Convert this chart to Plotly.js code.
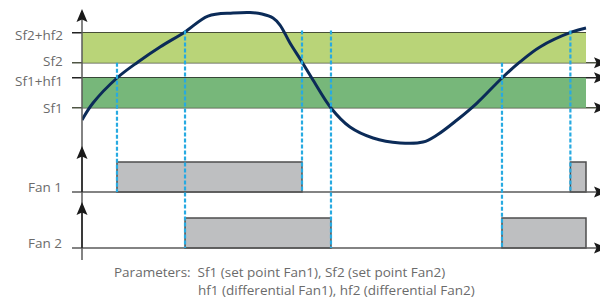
<!DOCTYPE html>
<html><head><meta charset="utf-8">
<script src="https://cdn.plot.ly/plotly-3.0.1.min.js"></script>
<style>html,body{margin:0;padding:0;background:#fff}#chart{width:600px;height:301px}</style>
</head><body><div id="chart"></div>
<script>
// ---- data (time in arbitrary units 0..100, temperature in arbitrary units) ----
const time = [0, 2.18, 6.94, 11.11, 15.48, 20.44, 25.0, 29.96, 33.33, 35.71, 37.9, 39.29, 41.27, 43.65, 45.83, 49.4, 53.17, 57.74, 63.1, 67.66, 70.44, 74.4, 78.37, 83.33, 86.9, 90.87, 97.22, 100];
const temperature = [9.18, 10.31, 11.98, 13.05, 14.05, 15.05, 16.11, 16.31, 16.35, 16.25, 15.98, 15.51, 14.31, 13.05, 11.85, 9.98, 8.71, 7.98, 7.65, 7.71, 8.18, 9.18, 10.31, 11.98, 13.05, 14.05, 15.05, 15.31];
const levelLabels = ['Sf1', 'Sf1+hf1', 'Sf2', 'Sf2+hf2'];
const levelValues = [10, 12, 13, 15];
const fanLabels = ['Fan 1', 'Fan 2'];
const fan1On = [6.94, 96.9];
const fan1Off = [43.65, 100];
const fan2On = [20.44, 83.33];
const fan2Off = [49.4, 100];
const switchTimes = [6.94, 20.44, 43.65, 49.4, 83.33, 96.9];
const switchFrom = [13, 15.15, 15.15, 15.15, 13, 15.15];
const switchFan = [1, 2, 1, 2, 2, 1];
const parameterLines = ['Parameters:  Sf1 (set point Fan1), Sf2 (set point Fan2)', 'hf1 (differential Fan1), hf2 (differential Fan2)'];

// ---- geometry ----
const W = 600, H = 301;
const px = x => x / W;
const py = y => 1 - y / H;
const xDomain = [82 / W, 1];
const xRange = [0, 518 / 5.04];
const topDomain = [py(145), py(0)];
const topRange = [10 + (107.7 - 145) / 15, 10 + 107.7 / 15];
const fanRange = [-0.3, 47 / 30];
const fanDomains = [[py(201), py(145)], [py(257), py(201)]];
const toPaper = (v, dom, rng) => dom[0] + (v - rng[0]) / (rng[1] - rng[0]) * (dom[1] - dom[0]);
const xPaper = t => toPaper(t, xDomain, xRange);

const FONT = 'Open Sans, Noto Sans, sans-serif';
const TXT = '#6b6b6b';
const AX = '#5a5a5a';

const traces = [];
traces.push({x: time, y: temperature, type: 'scatter', mode: 'lines', xaxis: 'x', yaxis: 'y',
  line: {color: '#0b2b58', width: 3, shape: 'spline', smoothing: 1}, hoverinfo: 'skip'});
function fanTrace(on, off, yaxis) {
  return {type: 'bar', xaxis: 'x', yaxis: yaxis,
    x: on.map((o, i) => (o + off[i]) / 2), y: on.map(() => 1), base: on.map(() => 0),
    width: on.map((o, i) => off[i] - o),
    marker: {color: '#bebfc1', line: {color: '#4d4d4d', width: 1.5}}, hoverinfo: 'skip'};
}
traces.push(fanTrace(fan1On, fan1Off, 'y2'));
traces.push(fanTrace(fan2On, fan2Off, 'y3'));

const shapes = [];
// bands
shapes.push({type: 'rect', xref: 'x', yref: 'y', x0: 0, x1: 100, y0: levelValues[2], y1: levelValues[3], fillcolor: '#b9d478', line: {width: 0}, layer: 'below'});
shapes.push({type: 'rect', xref: 'x', yref: 'y', x0: 0, x1: 100, y0: levelValues[0], y1: levelValues[1], fillcolor: '#77b77a', line: {width: 0}, layer: 'below'});
// level lines
const levelColors = ['#4f5544', '#222222', '#4f5544', '#222222'];
const levelExtend = [true, true, true, false];
levelValues.forEach((v, i) => {
  const yp = toPaper(v, topDomain, topRange);
  shapes.push({type: 'line', xref: 'paper', yref: 'paper', x0: px(72), x1: levelExtend[i] ? px(597) : xPaper(100), y0: yp, y1: yp,
    line: {color: levelColors[i], width: 1.5}, layer: 'below'});
});
// fan baselines
fanDomains.forEach(dom => {
  const yp = toPaper(0, dom, fanRange);
  shapes.push({type: 'line', xref: 'paper', yref: 'paper', x0: px(72), x1: px(597), y0: yp, y1: yp, line: {color: AX, width: 1.5}});
});
// vertical axis
shapes.push({type: 'line', xref: 'paper', yref: 'paper', x0: px(82), x1: px(82), y0: py(14), y1: py(260), line: {color: AX, width: 1.5}});
shapes.push({type: 'line', xref: 'paper', yref: 'paper', x0: px(82), x1: px(82), y0: py(150), y1: py(192), line: {color: '#222', width: 1.5}});
shapes.push({type: 'line', xref: 'paper', yref: 'paper', x0: px(82), x1: px(82), y0: py(206), y1: py(248), line: {color: '#222', width: 1.5}});
// dashed switch guides
switchTimes.forEach((t, i) => {
  shapes.push({type: 'line', xref: 'x', yref: 'paper', x0: t, x1: t,
    y0: toPaper(switchFrom[i], topDomain, topRange), y1: toPaper(0, fanDomains[switchFan[i] - 1], fanRange),
    line: {color: '#27aae1', width: 2.2, dash: '4px,2px'}});
});
// arrowheads
function upArrow(tipY) {
  const x = 82;
  return {type: 'path', xref: 'paper', yref: 'paper', fillcolor: '#1a1a1a', line: {width: 0},
    path: `M ${px(x)} ${py(tipY)} L ${px(x + 5.5)} ${py(tipY + 13)} L ${px(x)} ${py(tipY + 10.5)} L ${px(x - 5.5)} ${py(tipY + 13)} Z`};
}
function rightArrow(y) {
  const b = 594;
  return {type: 'path', xref: 'paper', yref: 'paper', fillcolor: '#1a1a1a', line: {width: 0},
    path: `M ${px(b + 13)} ${py(y)} L ${px(b)} ${py(y - 5.5)} L ${px(b + 2.5)} ${py(y)} L ${px(b)} ${py(y + 5.5)} Z`};
}
[9, 146, 202].forEach(t => shapes.push(upArrow(t)));
levelValues.forEach((v, i) => { if (levelExtend[i]) shapes.push(rightArrow((1 - toPaper(v, topDomain, topRange)) * H)); });
fanDomains.forEach(dom => shapes.push(rightArrow((1 - toPaper(0, dom, fanRange)) * H)));

const annotations = [];
const labelShift = [0, -0.2, 0.13, -0.13];
levelLabels.forEach((lab, i) => annotations.push({text: lab, xref: 'paper', yref: 'y', x: px(64), y: levelValues[i] + labelShift[i],
  xanchor: 'right', yanchor: 'middle', showarrow: false, borderpad: 0, font: {family: FONT, size: 13.5, color: TXT}}));
fanLabels.forEach((lab, i) => annotations.push({text: lab, xref: 'paper', yref: i === 0 ? 'y2' : 'y3', x: px(64), y: 0.17,
  xanchor: 'right', yanchor: 'middle', showarrow: false, font: {family: FONT, size: 13.5, color: TXT}}));
annotations.push({text: parameterLines[0], xref: 'paper', yref: 'paper', x: px(112), y: py(272), xanchor: 'left', yanchor: 'middle', showarrow: false, font: {family: FONT, size: 13.5, color: TXT}});
annotations.push({text: parameterLines[1], xref: 'paper', yref: 'paper', x: px(196), y: py(290), xanchor: 'left', yanchor: 'middle', showarrow: false, font: {family: FONT, size: 13.5, color: TXT}});

const hidden = {visible: false, fixedrange: true};
const layout = {
  width: W, height: H, margin: {l: 0, r: 0, t: 0, b: 0},
  paper_bgcolor: '#fff', plot_bgcolor: 'rgba(0,0,0,0)', showlegend: false, barmode: 'overlay',
  xaxis: Object.assign({domain: xDomain, range: xRange}, hidden),
  yaxis: Object.assign({domain: topDomain, range: topRange, anchor: 'x'}, hidden),
  yaxis2: Object.assign({domain: fanDomains[0], range: fanRange, anchor: 'x'}, hidden),
  yaxis3: Object.assign({domain: fanDomains[1], range: fanRange, anchor: 'x'}, hidden),
  shapes: shapes, annotations: annotations
};
Plotly.newPlot('chart', traces, layout, {displayModeBar: false, staticPlot: true});
</script></body></html>
